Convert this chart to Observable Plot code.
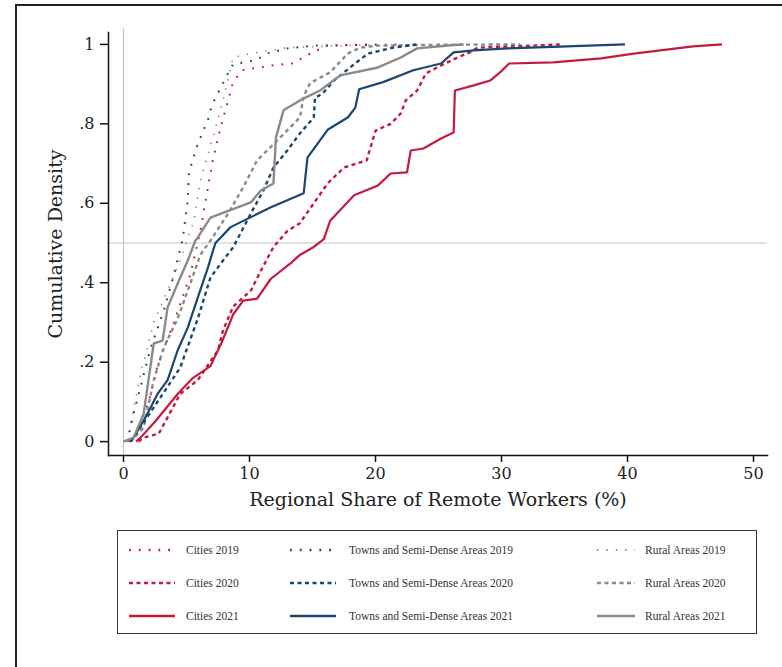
<!DOCTYPE html>
<html>
<head>
<meta charset="utf-8">
<script src="https://cdn.jsdelivr.net/npm/d3@7"></script>
<script src="https://cdn.jsdelivr.net/npm/@observablehq/plot@0.6"></script>
<style>
  html, body { margin: 0; padding: 0; background: #fff; overflow: hidden; width: 782px; height: 667px; }
  #frame { position: absolute; left: 15px; top: 4px; width: 820px; height: 720px; border-left: 2px solid #222; border-top: 2px solid #222; }
  #chart { position: absolute; left: 0; top: 0; }
  #legend { position: absolute; left: 117px; top: 530px; width: 640px; height: 104px; border: 1.5px solid #333; box-sizing: border-box; }
  .item { position: absolute; height: 16px; font-family: "Liberation Serif", serif; font-size: 11.5px; color: #333; white-space: nowrap; }
  .item svg { position: absolute; left: 0; top: 3px; }
  .item span { position: absolute; top: 0; line-height: 16px; }
</style>
</head>
<body>
<div id="frame"></div>
<div id="chart"></div>
<div id="legend"></div>
<script>
// ---- data ----
const seriesNames = [
  "Cities 2019", "Towns and Semi-Dense Areas 2019", "Rural Areas 2019",
  "Cities 2020", "Towns and Semi-Dense Areas 2020", "Rural Areas 2020",
  "Cities 2021", "Towns and Semi-Dense Areas 2021", "Rural Areas 2021"
];
const xTicks = [0, 10, 20, 30, 40, 50];
const yTicks = [0, 0.2, 0.4, 0.6, 0.8, 1];
const yTickLabels = ["0", ".2", ".4", ".6", ".8", "1"];

const cities2019_x = [0.4, 1.0, 2.0, 2.7, 4.0, 5.3, 6.1, 6.7, 7.1, 7.7, 8.7, 9.4, 11.7, 13.4, 15.0, 16.2, 22.0];
const cities2019_y = [0, 0.02, 0.1, 0.19, 0.30, 0.42, 0.53, 0.64, 0.71, 0.79, 0.905, 0.935, 0.947, 0.952, 0.98, 0.997, 1];

const cities2020_x = [1.2, 1.6, 2.8, 4.5, 5.9, 7.5, 7.9, 8.7, 10.1, 10.9, 11.9, 13.0, 14.0, 15.1, 16.2, 17.5, 19.3, 20.0, 21.2, 22.0, 22.4, 23.3, 24.0, 25.2, 26.5, 27.5, 28.1, 31.0, 34.7];
const cities2020_y = [0, 0.01, 0.02, 0.12, 0.155, 0.23, 0.28, 0.34, 0.38, 0.43, 0.49, 0.53, 0.55, 0.6, 0.65, 0.69, 0.708, 0.783, 0.80, 0.826, 0.859, 0.884, 0.927, 0.947, 0.967, 0.98, 0.992, 0.995, 1];

const cities2021_x = [1.0, 1.35, 2.5, 4.3, 5.5, 6.9, 7.8, 8.7, 9.5, 10.6, 11.7, 13.3, 14.0, 15.1, 15.9, 16.4, 18.3, 20.2, 21.2, 22.5, 22.8, 23.8, 25.2, 26.2, 26.3, 27.8, 29.1, 29.9, 30.6, 34.1, 37.9, 40.5, 42.6, 45.2, 47.5];
const cities2021_y = [0, 0.01, 0.05, 0.12, 0.16, 0.19, 0.25, 0.32, 0.355, 0.36, 0.41, 0.45, 0.47, 0.49, 0.51, 0.556, 0.62, 0.645, 0.675, 0.678, 0.733, 0.738, 0.763, 0.778, 0.884, 0.897, 0.909, 0.93, 0.952, 0.955, 0.965, 0.977, 0.985, 0.995, 1];

const towns2019_x = [0.3, 0.8, 2.1, 3.2, 4.0, 4.7, 5.1, 5.2, 5.9, 6.7, 7.0, 7.7, 8.5, 8.7, 10.5, 11.4, 13.0, 15.1, 20.0];
const towns2019_y = [0, 0.07, 0.23, 0.33, 0.42, 0.51, 0.607, 0.678, 0.75, 0.81, 0.846, 0.89, 0.94, 0.95, 0.96, 0.977, 0.99, 0.997, 1];

const towns2020_x = [0.6, 1.2, 2.4, 4.5, 5.9, 6.9, 7.9, 8.7, 10.1, 11.1, 11.9, 13.0, 14.0, 15.1, 15.2, 15.8, 16.7, 18.3, 19.4, 21.4, 23.3];
const towns2020_y = [0, 0.03, 0.086, 0.186, 0.31, 0.413, 0.456, 0.489, 0.574, 0.632, 0.69, 0.733, 0.776, 0.816, 0.866, 0.876, 0.909, 0.95, 0.977, 0.992, 1];

const towns2021_x = [0.5, 0.8, 1.9, 2.7, 3.5, 4.3, 5.1, 5.9, 6.7, 7.1, 7.3, 8.5, 11.7, 14.3, 14.6, 16.2, 17.8, 18.4, 18.7, 20.6, 23.0, 25.2, 26.2, 27.8, 30.5, 35.2, 39.8];
const towns2021_y = [0, 0.01, 0.07, 0.12, 0.155, 0.23, 0.287, 0.363, 0.438, 0.48, 0.5, 0.54, 0.59, 0.625, 0.715, 0.785, 0.816, 0.841, 0.887, 0.905, 0.935, 0.952, 0.98, 0.985, 0.99, 0.995, 1];

const rural2019_x = [0.3, 1.35, 2.4, 3.5, 4.5, 5.6, 6.1, 7.1, 7.9, 8.7, 10.1, 13.0, 20.2];
const rural2019_y = [0, 0.17, 0.30, 0.38, 0.456, 0.557, 0.657, 0.766, 0.859, 0.967, 0.977, 0.992, 1];

const rural2020_x = [0.5, 1.6, 2.4, 3.2, 4.3, 5.1, 6.1, 6.9, 8.3, 9.5, 10.6, 12.2, 14.0, 14.3, 14.8, 16.4, 17.8, 18.8, 20.2, 25.0, 31.5];
const rural2020_y = [0, 0.035, 0.155, 0.237, 0.31, 0.38, 0.47, 0.506, 0.574, 0.64, 0.708, 0.758, 0.816, 0.87, 0.902, 0.93, 0.977, 0.992, 0.997, 0.999, 1];

const rural2021_x = [0, 0.8, 1.6, 2.4, 3.1, 3.5, 4.3, 5.1, 5.7, 5.9, 6.9, 10.1, 10.9, 11.9, 12.1, 12.7, 14.0, 15.6, 17.2, 20.2, 22.0, 23.3, 26.0, 27.0];
const rural2021_y = [0, 0.01, 0.07, 0.247, 0.254, 0.338, 0.398, 0.456, 0.506, 0.514, 0.564, 0.602, 0.632, 0.65, 0.766, 0.834, 0.859, 0.884, 0.922, 0.942, 0.967, 0.99, 0.998, 1];

// ---- styles ----
const RED = "#c41a3f", NAVY = "#1a476f", GRAY = "#8a8a8a";
const styles = {
  "Cities 2019": {color: RED, dash: "1.8,8", width: 2},
  "Towns and Semi-Dense Areas 2019": {color: NAVY, dash: "1.8,8", width: 2},
  "Rural Areas 2019": {color: GRAY, dash: "1.4,8", width: 1.6},
  "Cities 2020": {color: RED, dash: "4,3.5", width: 2.4},
  "Towns and Semi-Dense Areas 2020": {color: NAVY, dash: "4,3.5", width: 2.4},
  "Rural Areas 2020": {color: GRAY, dash: "4,3.5", width: 2.4},
  "Cities 2021": {color: RED, dash: null, width: 2.2},
  "Towns and Semi-Dense Areas 2021": {color: NAVY, dash: null, width: 2.2},
  "Rural Areas 2021": {color: GRAY, dash: null, width: 2.4}
};
const seriesData = {
  "Cities 2019": [cities2019_x, cities2019_y],
  "Towns and Semi-Dense Areas 2019": [towns2019_x, towns2019_y],
  "Rural Areas 2019": [rural2019_x, rural2019_y],
  "Cities 2020": [cities2020_x, cities2020_y],
  "Towns and Semi-Dense Areas 2020": [towns2020_x, towns2020_y],
  "Rural Areas 2020": [rural2020_x, rural2020_y],
  "Cities 2021": [cities2021_x, cities2021_y],
  "Towns and Semi-Dense Areas 2021": [towns2021_x, towns2021_y],
  "Rural Areas 2021": [rural2021_x, rural2021_y]
};

const drawOrder = [
  "Rural Areas 2019", "Towns and Semi-Dense Areas 2019", "Cities 2019",
  "Rural Areas 2020", "Towns and Semi-Dense Areas 2020", "Cities 2020",
  "Cities 2021", "Towns and Semi-Dense Areas 2021", "Rural Areas 2021"
];

const lineMarks = drawOrder.map(name => {
  const [xs, ys] = seriesData[name];
  const rows = xs.map((x, i) => ({x, y: ys[i]}));
  const s = styles[name];
  return Plot.line(rows, {x: "x", y: "y", stroke: s.color, strokeWidth: s.width,
    strokeDasharray: s.dash || undefined, strokeLinecap: "butt", strokeLinejoin: "miter"});
});

const serif = "DejaVu Serif, serif";

const plot = Plot.plot({
  width: 782,
  height: 520,
  marginLeft: 108,
  marginRight: 15,
  marginTop: 32,
  marginBottom: 65,
  style: {fontFamily: serif, background: "transparent", overflow: "visible"},
  x: {domain: [-1.19, 51.11]},
  y: {domain: [-0.035, 1.03]},
  marks: [
    Plot.ruleY([0.5], {stroke: "#c4c4c4", strokeWidth: 1.2}),
    Plot.ruleX([0], {stroke: "#c4c4c4", strokeWidth: 1.2, y1: -0.035, y2: 1.04}),
    ...lineMarks,
    Plot.axisX({ticks: xTicks, tickSize: 7, tickPadding: 5, tickFormat: d => String(d), fontSize: 16, label: null, stroke: "#111", strokeWidth: 1.5, color: "#222"}),
    Plot.axisY({ticks: yTicks, tickSize: 8, tickPadding: 6, tickFormat: (d, i) => yTickLabels[i], fontSize: 16, label: null, stroke: "#111", strokeWidth: 1.5, color: "#222"}),
    Plot.frame({anchor: "bottom", stroke: "#111", strokeWidth: 1.5}),
    Plot.frame({anchor: "left", stroke: "#111", strokeWidth: 1.5}),
    Plot.text(["Regional Share of Remote Workers (%)"], {frameAnchor: "bottom", dy: 50, fontSize: 19, fill: "#222", textAnchor: "middle"}),
    Plot.text(["Cumulative Density"], {frameAnchor: "left", dx: -53, rotate: -90, fontSize: 19, fill: "#222", textAnchor: "middle"})
  ]
});
document.getElementById("chart").appendChild(plot);

// ---- legend ----
const legendLayout = [
  {name: "Cities 2019", col: 0, row: 0}, {name: "Towns and Semi-Dense Areas 2019", col: 1, row: 0}, {name: "Rural Areas 2019", col: 2, row: 0},
  {name: "Cities 2020", col: 0, row: 1}, {name: "Towns and Semi-Dense Areas 2020", col: 1, row: 1}, {name: "Rural Areas 2020", col: 2, row: 1},
  {name: "Cities 2021", col: 0, row: 2}, {name: "Towns and Semi-Dense Areas 2021", col: 1, row: 2}, {name: "Rural Areas 2021", col: 2, row: 2}
];
const colLeft = [11, 172, 479];
const colTextOffset = [57, 59, 48];
const sampleLen = [46, 46, 38];
const rowTop = [11, 44, 77];
const legend = document.getElementById("legend");
for (const it of legendLayout) {
  const s = styles[it.name];
  const div = document.createElement("div");
  div.className = "item";
  div.style.left = colLeft[it.col] + "px";
  div.style.top = rowTop[it.row] + "px";
  const L = sampleLen[it.col];
  const svg = d3.create("svg").attr("width", L + 2).attr("height", 10);
  svg.append("line").attr("x1", 0).attr("x2", L).attr("y1", 5).attr("y2", 5)
    .attr("stroke", s.color).attr("stroke-width", s.width + 0.3)
    .attr("stroke-dasharray", s.dash);
  div.appendChild(svg.node());
  const span = document.createElement("span");
  span.style.left = colTextOffset[it.col] + "px";
  span.textContent = it.name;
  div.appendChild(span);
  legend.appendChild(div);
}
</script>
</body>
</html>
